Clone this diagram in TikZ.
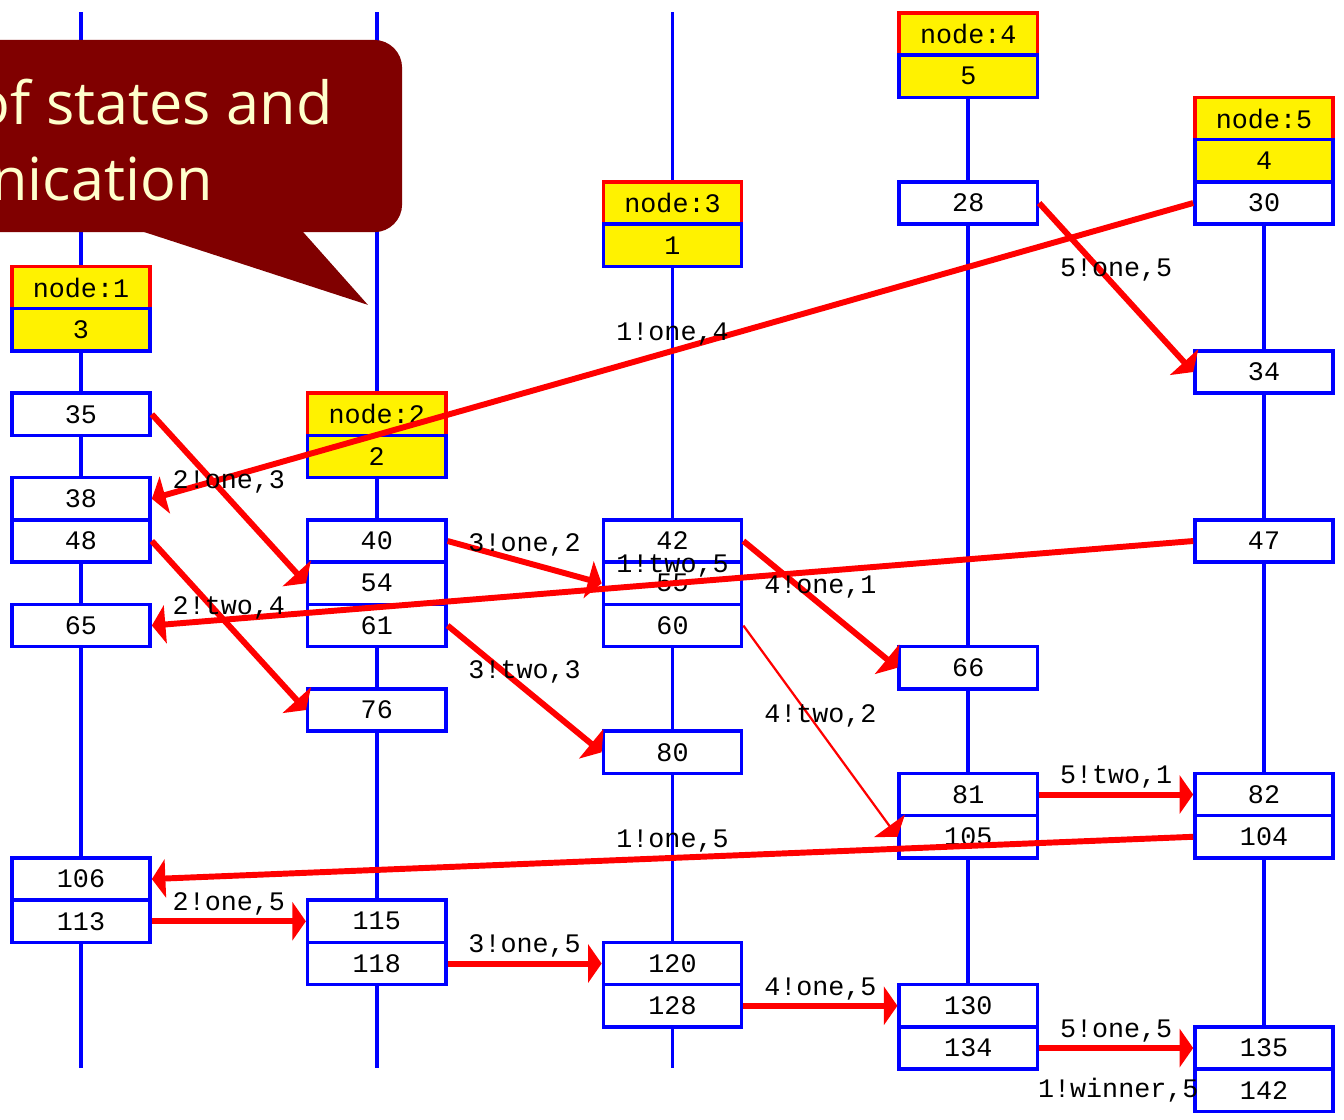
\documentclass[tikz,border=0pt]{standalone}
\usepackage{fontspec}
\setmonofont{Liberation Mono}
\setsansfont{Open Sans}
\usetikzlibrary{arrows.meta,backgrounds}
\definecolor{callred}{HTML}{800000}
\definecolor{calltext}{HTML}{FFFFCC}

\tikzset{
    evbox/.style={draw=blue, fill=white, line width=2.4pt, minimum width=3.27cm,
        minimum height=1cm, inner sep=0pt, font=\ttfamily\fontsize{18}{18}\selectfont},
    hdbox/.style={evbox, draw=red, fill=yellow},
    valbox/.style={evbox, fill=yellow},
    life/.style={blue, line width=2.4pt},
    msg/.style={red, line width=4pt, -{Triangle[length=0.32cm,width=0.9cm]}},
    lbl/.style={text=black, font=\ttfamily\fontsize{18}{18}\selectfont, inner sep=2pt},
}

\begin{document}
\begin{tikzpicture}[y=-1cm]

\useasboundingbox (-1.917,-0.805) rectangle (29.893,25.68);
\clip (-1.917,-0.805) rectangle (29.893,25.68);

\coordinate (top1) at (0,-0.52);
\coordinate (bot1) at (0,24.47);
\coordinate (top2) at (7,-0.52);
\coordinate (bot2) at (7,24.47);
\coordinate (top3) at (14,-0.52);
\coordinate (bot3) at (14,24.47);

% callout
\fill[callred, rounded corners=0.66cm] (-3,0.14) rectangle (7.60,4.69);
\fill[callred] (1.23,4.6) -- (5.18,4.6) -- (6.79,6.41) -- cycle;
\node[anchor=base east, text=calltext, inner sep=0pt,
    font=\sffamily\fontsize{40}{48}\selectfont] (t1) at (5.96,2.15) {of states and};
\node[anchor=base east, text=calltext, inner sep=0pt,
    font=\sffamily\fontsize{40}{48}\selectfont] (t2) at (3.12,3.93) {communication};

% node 1
\node[hdbox] (h1) at (0,6) {node:1};
\node[valbox] (v1) at (0,7) {3};
\node[evbox] (s35) at (0,9) {35};
\node[evbox] (s38) at (0,11) {38};
\node[evbox] (s48) at (0,12) {48};
\node[evbox] (s65) at (0,14) {65};
\node[evbox] (s106) at (0,20) {106};
\node[evbox] (s113) at (0,21) {113};

% node 2
\node[hdbox] (h2) at (7,9) {node:2};
\node[valbox] (v2) at (7,10) {2};
\node[evbox] (s40) at (7,12) {40};
\node[evbox] (s54) at (7,13) {54};
\node[evbox] (s61) at (7,14) {61};
\node[evbox] (s76) at (7,16) {76};
\node[evbox] (s115) at (7,21) {115};
\node[evbox] (s118) at (7,22) {118};

% node 3
\node[hdbox] (h3) at (14,4) {node:3};
\node[valbox] (v3) at (14,5) {1};
\node[evbox] (s42) at (14,12) {42};
\node[evbox] (s55) at (14,13) {55};
\node[evbox] (s60) at (14,14) {60};
\node[evbox] (s80) at (14,17) {80};
\node[evbox] (s120) at (14,22) {120};
\node[evbox] (s128) at (14,23) {128};

% node 4
\node[hdbox] (h4) at (21,0) {node:4};
\node[valbox] (v4) at (21,1) {5};
\node[evbox] (s28) at (21,4) {28};
\node[evbox] (s66) at (21,15) {66};
\node[evbox] (s81) at (21,18) {81};
\node[evbox] (s105) at (21,19) {105};
\node[evbox] (s130) at (21,23) {130};
\node[evbox] (s134) at (21,24) {134};

% node 5
\node[hdbox] (h5) at (28,2) {node:5};
\node[valbox] (v5) at (28,3) {4};
\node[evbox] (s30) at (28,4) {30};
\node[evbox] (s34) at (28,8) {34};
\node[evbox] (s47) at (28,12) {47};
\node[evbox] (s82) at (28,18) {82};
\node[evbox] (s104) at (28,19) {104};
\node[evbox] (s135) at (28,24) {135};
\node[evbox] (s142) at (28,25) {142};

\begin{scope}[on background layer]
\draw[life] (top1) -- (bot1);
\draw[life] (top2) -- (bot2);
\draw[life] (top3) -- (bot3);
\draw[life] (v4) -- (s134);
\draw[life] (v5) -- (s135);
\end{scope}

% messages
\draw[msg] (s30.west) -- node[lbl,above] (m1) {1!one,4} (s38.east);
\draw[msg] (s35.east) -- node[lbl,above] (m2) {2!one,3} (s54.west);
\draw[msg] (s28.east) -- node[lbl,above] (m3) {5!one,5} (s34.west);
\draw[msg] (s40.east) -- node[lbl,above] (m4) {3!one,2} (s55.west);
\draw[msg] (s47.west) -- node[lbl,above] (m5) {1!two,5} (s65.east);
\draw[msg] (s42.east) -- node[lbl,above] (m6) {4!one,1} (s66.west);
\draw[msg] (s48.east) -- node[lbl,above] (m7) {2!two,4} (s76.west);
\draw[msg] (s61.east) -- node[lbl,above] (m8) {3!two,3} (s80.west);
\draw[msg, line width=1.5pt] (s60.east) -- node[lbl,above] (m9) {4!two,2} (s105.west);
\draw[msg] (s81.east) -- node[lbl,above] (m10) {5!two,1} (s82.west);
\draw[msg] (s104.west) -- node[lbl,above] (m11) {1!one,5} (s106.east);
\draw[msg] (s113.east) -- node[lbl,above] (m12) {2!one,5} (s115.west);
\draw[msg] (s118.east) -- node[lbl,above] (m13) {3!one,5} (s120.west);
\draw[msg] (s128.east) -- node[lbl,above] (m14) {4!one,5} (s130.west);
\draw[msg] (s134.east) -- node[lbl,above] (m15) {5!one,5} (s135.west);

\node[lbl] (m16) at (24.55,25) {1!winner,5};

\end{tikzpicture}
\end{document}
